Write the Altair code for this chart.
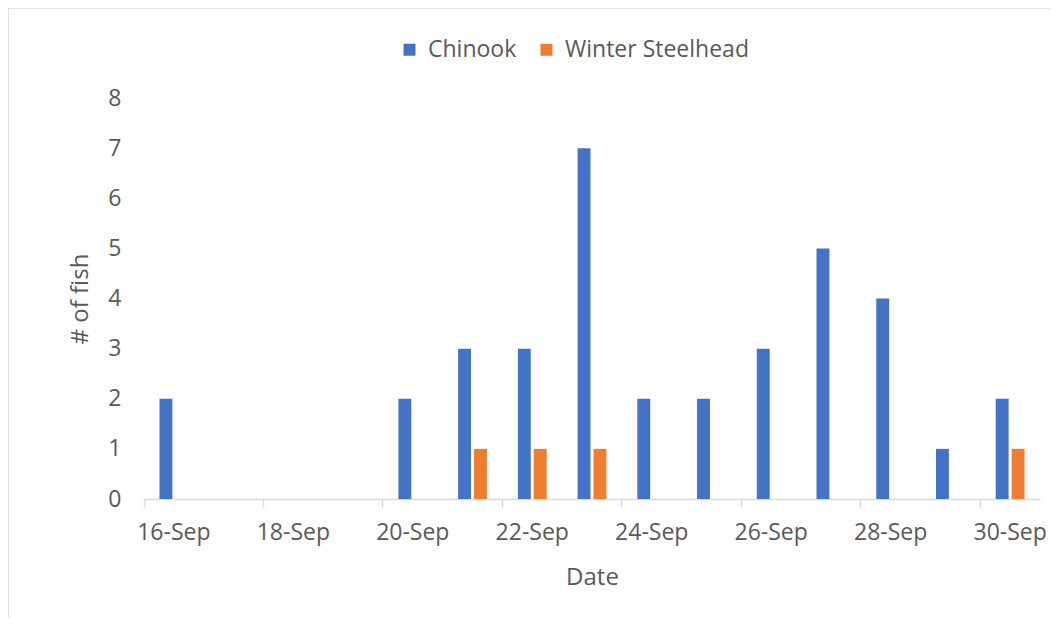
import altair as alt
import pandas as pd

dates = ["16-Sep", "17-Sep", "18-Sep", "19-Sep", "20-Sep", "21-Sep", "22-Sep", "23-Sep",
         "24-Sep", "25-Sep", "26-Sep", "27-Sep", "28-Sep", "29-Sep", "30-Sep"]
chinook = [2, 0, 0, 0, 2, 3, 3, 7, 2, 2, 3, 5, 4, 1, 2]
steelhead = [0, 0, 0, 0, 0, 1, 1, 1, 0, 0, 0, 0, 0, 0, 1]
series = ["Chinook", "Winter Steelhead"]
colors = ["#4472C4", "#ED7D31"]
label_dates = ["16-Sep", "18-Sep", "20-Sep", "22-Sep", "24-Sep", "26-Sep", "28-Sep", "30-Sep"]
y_ticks = [0, 1, 2, 3, 4, 5, 6, 7, 8]

rows = []
for d, c, s in zip(dates, chinook, steelhead):
    rows.append({"Date": d, "Species": series[0], "Count": c})
    rows.append({"Date": d, "Species": series[1], "Count": s})
df = pd.DataFrame(rows)

FONT = "Open Sans"
TXT = "#595959"
LINE = "#D9D9D9"
W, H = 896, 401

bars = alt.Chart(df).mark_bar().encode(
    x=alt.X("Date:N", sort=dates,
            scale=alt.Scale(paddingInner=0, paddingOuter=0),
            axis=alt.Axis(values=label_dates, bandPosition=0,
                          labelAngle=0, tickSize=8, tickColor=LINE, tickWidth=1.5,
                          domainColor=LINE, domainWidth=1.5, labelPadding=14,
                          labelFontSize=23, labelColor=TXT, labelFont=FONT,
                          title="Date", titleFontSize=24, titleFont=FONT, titleColor=TXT,
                          titleFontWeight="normal", titleBaseline="middle",
                          titleX=W / 2, titleY=78, grid=False)),
    xOffset=alt.XOffset("Species:N", sort=series,
                        scale=alt.Scale(paddingInner=0.19, paddingOuter=0.97)),
    y=alt.Y("Count:Q", scale=alt.Scale(domain=[0, 8], nice=False),
            axis=alt.Axis(values=y_ticks, ticks=False, domain=False, grid=False,
                          labelPadding=23, labelFontSize=23, labelColor=TXT, labelFont=FONT,
                          title="# of fish", titleFontSize=24, titleFont=FONT, titleColor=TXT,
                          titleFontWeight="normal", titleAngle=270, titleBaseline="middle",
                          titleAlign="center", titleX=-64, titleY=H / 2)),
    color=alt.Color("Species:N", sort=series,
                    scale=alt.Scale(domain=series, range=colors),
                    legend=alt.Legend(title=None, orient="none", direction="horizontal",
                                      legendX=254, legendY=-60, symbolType="square",
                                      symbolSize=144, symbolStrokeWidth=0, padding=0,
                                      labelFontSize=23, labelFont=FONT, labelColor=TXT,
                                      labelOffset=7, columnPadding=18, labelLimit=400)),
)

frame_df = pd.DataFrame({"k": [0]})
top_line = alt.Chart(frame_df).mark_rule(color=LINE, strokeWidth=1.5).encode(
    x=alt.value(-136), x2=alt.value(W + 11), y=alt.value(-90)
)
left_line = alt.Chart(frame_df).mark_rule(color=LINE, strokeWidth=1.5).encode(
    x=alt.value(-136), y=alt.value(-90), y2=alt.value(H + 119)
)

chart = alt.layer(top_line, left_line, bars).properties(
    width=W, height=H,
    background="white",
    autosize=alt.AutoSizeParams(type="none"),
    padding={"left": 136, "top": 90, "right": 11, "bottom": 119},
).configure_view(strokeWidth=0, stroke=None)

chart.save("out.html", embed_options={"renderer": "svg", "actions": False})
